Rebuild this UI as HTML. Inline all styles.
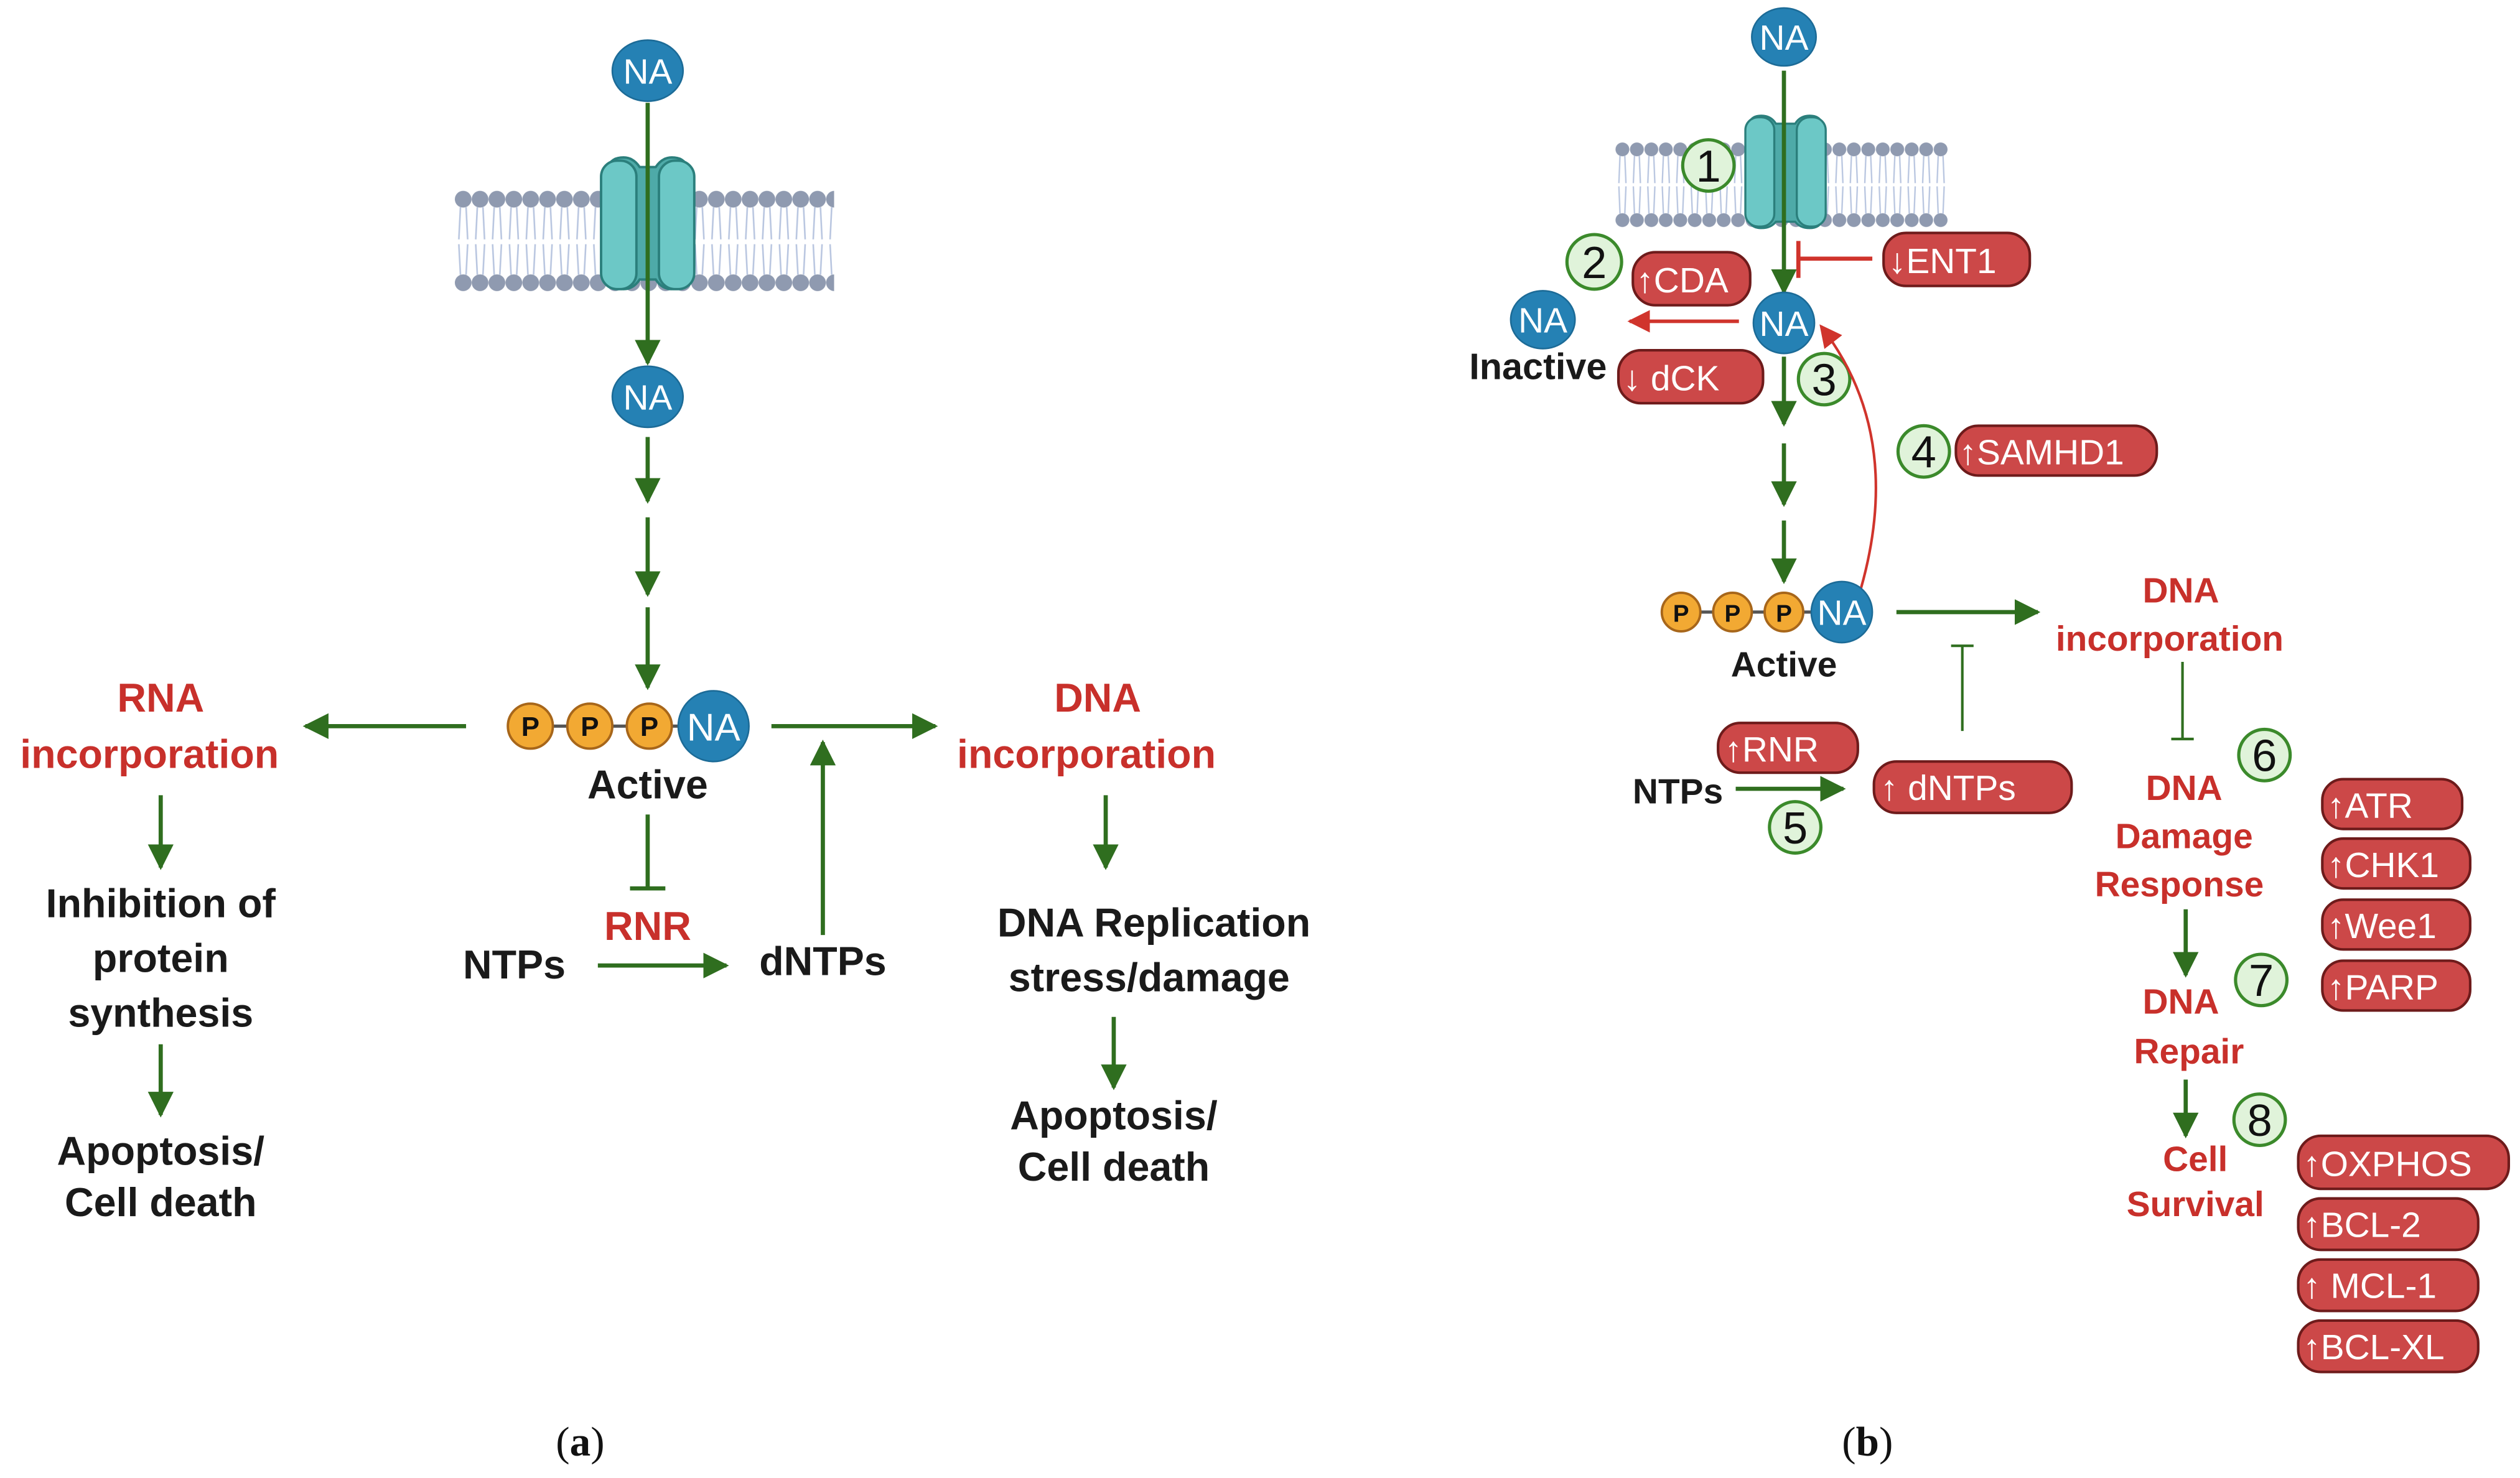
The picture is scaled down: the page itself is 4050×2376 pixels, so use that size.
<!DOCTYPE html>
<html><head><meta charset="utf-8"><style>
html,body{margin:0;padding:0;background:#fff;}
svg{display:block;}
text{font-family:"Liberation Sans",sans-serif;}
.b{font-weight:bold;}
.blk{fill:#1a1a1a;font-weight:bold;font-size:25px;text-anchor:middle;}
.red{fill:#c8302b;font-weight:bold;font-size:25px;text-anchor:middle;}
.redb{fill:#c8302b;font-weight:bold;font-size:22px;text-anchor:middle;}
.pill{fill:#cc4848;stroke:#6e1b1b;stroke-width:1.6;}
.pt{fill:#fff;font-size:22px;}
.g{stroke:#2f6e1f;stroke-width:2.6;fill:none;}
.r{stroke:#d0342c;stroke-width:2.2;fill:none;}
.num{fill:#e0f3da;stroke:#3b8a2b;stroke-width:2;}
.nt{fill:#111;font-size:28px;text-anchor:middle;}
.na{fill:#2581b4;stroke:#1c6b97;stroke-width:1;}
.nat{fill:#fff;font-size:22px;text-anchor:middle;}
.p{fill:#f2a933;stroke:#a7661a;stroke-width:1.5;}
.ptx{fill:#111;font-size:17px;font-weight:bold;text-anchor:middle;}
</style></head><body>
<svg width="4050" height="2376" viewBox="0 0 1568 920" preserveAspectRatio="none" xmlns="http://www.w3.org/2000/svg">
<defs>
<marker id="ga" viewBox="0 0 10 10" refX="9" refY="5" markerWidth="5" markerHeight="5" orient="auto-start-reverse" markerUnits="userSpaceOnUse"><path d="M0,0 L10,5 L0,10 z" fill="#2f6e1f" transform="scale(1)"/></marker>
<marker id="gA" viewBox="0 0 10 10" refX="9" refY="5" markerWidth="16" markerHeight="16" orient="auto" markerUnits="userSpaceOnUse"><path d="M0,0 L10,5 L0,10 z" fill="#2f6e1f"/></marker>
<marker id="rA" viewBox="0 0 10 10" refX="9" refY="5" markerWidth="14" markerHeight="14" orient="auto" markerUnits="userSpaceOnUse"><path d="M0,0 L10,5 L0,10 z" fill="#d0342c"/></marker>
<pattern id="memA" x="283" y="117" width="10.5" height="66" patternUnits="userSpaceOnUse">
<circle cx="5.2" cy="7" r="5.2" fill="#8f9ab0"/><circle cx="5.2" cy="59" r="5.2" fill="#8f9ab0"/>
<path d="M3.5,12 L2.5,32 M7,12 L8,32 M2.5,35 L3.5,54 M8,35 L7,54" stroke="#b9c6e0" stroke-width="1"/>
</pattern>
<pattern id="memB" x="1005" y="88" width="9" height="54" patternUnits="userSpaceOnUse">
<circle cx="4.5" cy="5" r="4.3" fill="#8f9ab0"/><circle cx="4.5" cy="49" r="4.3" fill="#8f9ab0"/>
<path d="M3,9 L2.3,26 M6,9 L6.7,26 M2.3,28 L3,45 M6.7,28 L6,45" stroke="#b9c6e0" stroke-width="0.9"/>
</pattern>
</defs>

<!-- ============ PANEL A ============ -->
<rect x="283" y="117" width="236" height="66" fill="url(#memA)"/>
<g>
<path d="M378,108 Q378,98 388,98 Q394,98 398,104 L408,104 Q412,98 418,98 Q428,98 428,108 L428,170 Q428,180 418,180 Q412,180 408,174 L398,174 Q394,180 388,180 Q378,180 378,170 Z" fill="#4eaaa8" stroke="#2b7f7c" stroke-width="1.5"/>
<rect x="374" y="100" width="22" height="80" rx="10" fill="#6cc8c6" stroke="#2b7f7c" stroke-width="1.5"/>
<rect x="410" y="100" width="22" height="80" rx="10" fill="#6cc8c6" stroke="#2b7f7c" stroke-width="1.5"/>
</g>
<line x1="403" y1="64" x2="403" y2="226" class="g" marker-end="url(#gA)"/>
<ellipse cx="403" cy="44" rx="22" ry="19" class="na"/><text x="403" y="52" class="nat">NA</text>
<ellipse cx="403" cy="247" rx="22" ry="19" class="na"/><text x="403" y="255" class="nat">NA</text>
<line x1="403" y1="272" x2="403" y2="312" class="g" marker-end="url(#gA)"/>
<line x1="403" y1="322" x2="403" y2="370" class="g" marker-end="url(#gA)"/>
<line x1="403" y1="378" x2="403" y2="428" class="g" marker-end="url(#gA)"/>
<line x1="330" y1="452" x2="430" y2="452" stroke="#555" stroke-width="2"/>
<circle cx="330" cy="452" r="14" class="p"/><text x="330" y="458" class="ptx">P</text>
<circle cx="367" cy="452" r="14" class="p"/><text x="367" y="458" class="ptx">P</text>
<circle cx="404" cy="452" r="14" class="p"/><text x="404" y="458" class="ptx">P</text>
<circle cx="444" cy="452" r="22" class="na"/><text x="444" y="461" class="nat" style="font-size:24px">NA</text>
<text x="403" y="497" class="blk">Active</text>
<line x1="290" y1="452" x2="190" y2="452" class="g" marker-end="url(#gA)"/>
<line x1="480" y1="452" x2="582" y2="452" class="g" marker-end="url(#gA)"/>
<text x="100" y="443" class="red">RNA</text>
<text x="93" y="478" class="red">incorporation</text>
<line x1="100" y1="495" x2="100" y2="540" class="g" marker-end="url(#gA)"/>
<text x="100" y="571" class="blk">Inhibition of</text>
<text x="100" y="605" class="blk">protein</text>
<text x="100" y="639" class="blk">synthesis</text>
<line x1="100" y1="650" x2="100" y2="694" class="g" marker-end="url(#gA)"/>
<text x="100" y="725" class="blk">Apoptosis/</text>
<text x="100" y="757" class="blk">Cell death</text>
<line x1="403" y1="507" x2="403" y2="553" class="g"/><line x1="392" y1="553" x2="414" y2="553" class="g"/>
<text x="403" y="585" class="red">RNR</text>
<text x="320" y="609" class="blk">NTPs</text>
<line x1="372" y1="601" x2="452" y2="601" class="g" marker-end="url(#gA)"/>
<text x="512" y="607" class="blk">dNTPs</text>
<line x1="512" y1="582" x2="512" y2="462" class="g" marker-end="url(#gA)"/>
<text x="683" y="443" class="red">DNA</text>
<text x="676" y="478" class="red">incorporation</text>
<line x1="688" y1="495" x2="688" y2="540" class="g" marker-end="url(#gA)"/>
<text x="718" y="583" class="blk">DNA Replication</text>
<text x="715" y="617" class="blk">stress/damage</text>
<line x1="693" y1="633" x2="693" y2="677" class="g" marker-end="url(#gA)"/>
<text x="693" y="703" class="blk">Apoptosis/</text>
<text x="693" y="735" class="blk">Cell death</text>
<text x="361" y="906" style="font-family:'Liberation Serif',serif;font-size:26px;text-anchor:middle;fill:#111">(<tspan font-weight="bold">a</tspan>)</text>

<!-- ============ PANEL B ============ -->
<rect x="1005" y="88" width="207" height="54" fill="url(#memB)"/>
<g>
<path d="M1088,80 Q1088,72 1096,72 Q1102,72 1105,77 L1117,77 Q1120,72 1126,72 Q1134,72 1134,80 L1134,134 Q1134,142 1126,142 Q1120,142 1117,138 L1105,138 Q1102,142 1096,142 Q1088,142 1088,134 Z" fill="#4eaaa8" stroke="#2b7f7c" stroke-width="1.3"/>
<rect x="1086" y="73" width="18" height="68" rx="8" fill="#6cc8c6" stroke="#2b7f7c" stroke-width="1.3"/>
<rect x="1118" y="73" width="18" height="68" rx="8" fill="#6cc8c6" stroke="#2b7f7c" stroke-width="1.3"/>
</g>
<circle cx="1063" cy="103" r="16" class="num"/><text x="1063" y="113" class="nt">1</text>
<line x1="1110" y1="44" x2="1110" y2="182" class="g" marker-end="url(#gA)"/>
<ellipse cx="1110" cy="23" rx="20" ry="18" class="na"/><text x="1110" y="31" class="nat">NA</text>
<ellipse cx="1110" cy="201" rx="19" ry="19" class="na"/><text x="1110" y="209" class="nat">NA</text>
<rect x="1172" y="145" width="91" height="33" rx="14" class="pill"/><text x="1175" y="170" class="pt">↓ENT1</text>
<line x1="1165" y1="161" x2="1119" y2="161" class="r" style="stroke-width:2.6"/><line x1="1119" y1="150" x2="1119" y2="173" class="r" style="stroke-width:2.6"/>
<circle cx="992" cy="163" r="17" class="num"/><text x="992" y="173" class="nt">2</text>
<rect x="1016" y="157" width="73" height="33" rx="14" class="pill"/><text x="1018" y="182" class="pt">↑CDA</text>
<line x1="1082" y1="200" x2="1014" y2="200" class="r" marker-end="url(#rA)"/>
<ellipse cx="960" cy="199" rx="20" ry="18" class="na"/><text x="960" y="207" class="nat">NA</text>
<text x="957" y="236" class="blk" style="font-size:23px">Inactive</text>
<rect x="1007" y="218" width="90" height="33" rx="14" class="pill"/><text x="1010" y="243" class="pt">↓ dCK</text>
<circle cx="1135" cy="236" r="16" class="num"/><text x="1135" y="246" class="nt">3</text>
<line x1="1110" y1="222" x2="1110" y2="264" class="g" marker-end="url(#gA)"/>
<line x1="1110" y1="276" x2="1110" y2="314" class="g" marker-end="url(#gA)"/>
<line x1="1110" y1="324" x2="1110" y2="362" class="g" marker-end="url(#gA)"/>
<path d="M1158,366 Q1185,270 1133,203" class="r" style="stroke-width:1.6" marker-end="url(#rA)"/>
<circle cx="1197" cy="281" r="16" class="num"/><text x="1197" y="291" class="nt">4</text>
<rect x="1217" y="265" width="125" height="31" rx="14" class="pill"/><text x="1219" y="289" class="pt">↑SAMHD1</text>
<line x1="1046" y1="381" x2="1130" y2="381" stroke="#555" stroke-width="2"/>
<circle cx="1046" cy="381" r="12" class="p"/><text x="1046" y="387" class="ptx" style="font-size:15px">P</text>
<circle cx="1078" cy="381" r="12" class="p"/><text x="1078" y="387" class="ptx" style="font-size:15px">P</text>
<circle cx="1110" cy="381" r="12" class="p"/><text x="1110" y="387" class="ptx" style="font-size:15px">P</text>
<circle cx="1146" cy="381" r="19" class="na"/><text x="1146" y="389" class="nat">NA</text>
<text x="1110" y="421" class="blk" style="font-size:22px">Active</text>
<line x1="1180" y1="381" x2="1268" y2="381" class="g" marker-end="url(#gA)"/>
<text x="1357" y="375" class="redb">DNA</text>
<text x="1350" y="405" class="redb">incorporation</text>
<line x1="1221" y1="455" x2="1221" y2="402" class="g" style="stroke-width:1.6"/><line x1="1214" y1="402" x2="1228" y2="402" class="g" style="stroke-width:1.6"/>
<rect x="1069" y="450" width="87" height="31" rx="14" class="pill"/><text x="1073" y="474" class="pt">↑RNR</text>
<text x="1044" y="500" class="blk" style="font-size:22px">NTPs</text>
<line x1="1080" y1="491" x2="1147" y2="491" class="g" marker-end="url(#gA)"/>
<circle cx="1117" cy="515" r="16" class="num"/><text x="1117" y="525" class="nt">5</text>
<rect x="1166" y="474" width="123" height="32" rx="14" class="pill"/><text x="1170" y="498" class="pt">↑ dNTPs</text>
<line x1="1358" y1="412" x2="1358" y2="460" class="g" style="stroke-width:1.6"/><line x1="1351" y1="460" x2="1365" y2="460" class="g" style="stroke-width:1.6"/>
<circle cx="1409" cy="470" r="16" class="num"/><text x="1409" y="480" class="nt">6</text>
<text x="1359" y="498" class="redb">DNA</text>
<text x="1359" y="528" class="redb">Damage</text>
<text x="1356" y="558" class="redb">Response</text>
<rect x="1445" y="485" width="87" height="31" rx="13" class="pill"/><text x="1448" y="509" class="pt">↑ATR</text>
<rect x="1445" y="522" width="92" height="31" rx="13" class="pill"/><text x="1448" y="546" class="pt">↑CHK1</text>
<rect x="1445" y="560" width="92" height="31" rx="13" class="pill"/><text x="1448" y="584" class="pt">↑Wee1</text>
<rect x="1445" y="598" width="92" height="31" rx="13" class="pill"/><text x="1448" y="622" class="pt">↑PARP</text>
<line x1="1360" y1="566" x2="1360" y2="607" class="g" marker-end="url(#gA)"/>
<circle cx="1407" cy="610" r="16" class="num"/><text x="1407" y="620" class="nt">7</text>
<text x="1357" y="631" class="redb">DNA</text>
<text x="1362" y="662" class="redb">Repair</text>
<line x1="1360" y1="672" x2="1360" y2="707" class="g" marker-end="url(#gA)"/>
<circle cx="1406" cy="697" r="16" class="num"/><text x="1406" y="707" class="nt">8</text>
<text x="1366" y="729" class="redb">Cell</text>
<text x="1366" y="757" class="redb">Survival</text>
<rect x="1430" y="707" width="131" height="33" rx="14" class="pill"/><text x="1433" y="732" class="pt">↑OXPHOS</text>
<rect x="1430" y="746" width="112" height="32" rx="14" class="pill"/><text x="1433" y="770" class="pt">↑BCL-2</text>
<rect x="1430" y="784" width="112" height="32" rx="14" class="pill"/><text x="1433" y="808" class="pt">↑ MCL-1</text>
<rect x="1430" y="822" width="112" height="32" rx="14" class="pill"/><text x="1433" y="846" class="pt">↑BCL-XL</text>
<text x="1162" y="906" style="font-family:'Liberation Serif',serif;font-size:26px;text-anchor:middle;fill:#111">(<tspan font-weight="bold">b</tspan>)</text>
</svg>
</body></html>
